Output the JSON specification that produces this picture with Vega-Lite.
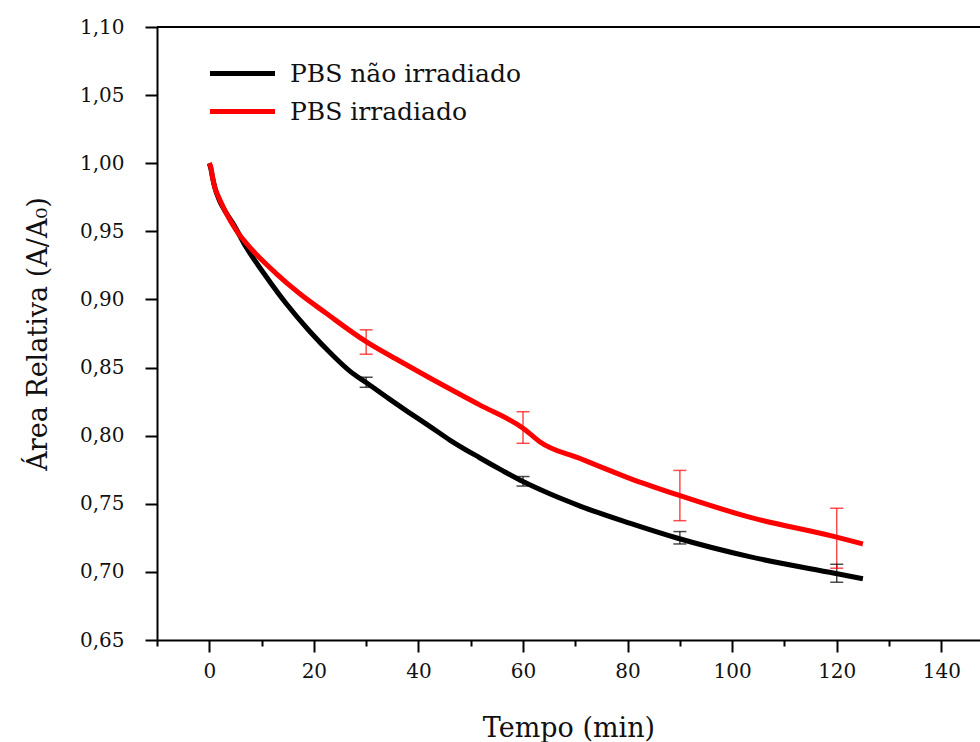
{
  "$schema": "https://vega.github.io/schema/vega-lite/v6.json",
  "autosize": "none",
  "width": 823,
  "height": 613,
  "padding": {"left": 157, "top": 27, "right": 0, "bottom": 102},
  "config": {
    "locale": {"number": {"decimal": ",", "thousands": ".", "grouping": [3], "currency": ["", ""]}},
    "view": {"stroke": null},
    "font": "DejaVu Serif",
    "axis": {"domainColor": "black", "domainWidth": 2, "tickColor": "black", "tickWidth": 2, "grid": false, "labelFont": "DejaVu Serif", "titleFont": "DejaVu Serif", "labelColor": "#111", "titleColor": "#111", "titleFontWeight": "normal"}
  },
  "datasets": {
    "curves": [
      {"t": 0, "v": 1.000, "s": "PBS não irradiado"},
      {"t": 0.3, "v": 0.996, "s": "PBS não irradiado"},
      {"t": 0.6, "v": 0.990, "s": "PBS não irradiado"},
      {"t": 1.0, "v": 0.983, "s": "PBS não irradiado"},
      {"t": 1.9, "v": 0.973, "s": "PBS não irradiado"},
      {"t": 3.0, "v": 0.965, "s": "PBS não irradiado"},
      {"t": 4.5, "v": 0.956, "s": "PBS não irradiado"},
      {"t": 7.0, "v": 0.9387, "s": "PBS não irradiado"},
      {"t": 10.9, "v": 0.9167, "s": "PBS não irradiado"},
      {"t": 14.7, "v": 0.897, "s": "PBS não irradiado"},
      {"t": 19.1, "v": 0.877, "s": "PBS não irradiado"},
      {"t": 23.6, "v": 0.859, "s": "PBS não irradiado"},
      {"t": 27.0, "v": 0.847, "s": "PBS não irradiado"},
      {"t": 30.0, "v": 0.839, "s": "PBS não irradiado"},
      {"t": 34.4, "v": 0.827, "s": "PBS não irradiado"},
      {"t": 38.0, "v": 0.8175, "s": "PBS não irradiado"},
      {"t": 42.1, "v": 0.807, "s": "PBS não irradiado"},
      {"t": 46.0, "v": 0.7968, "s": "PBS não irradiado"},
      {"t": 51.7, "v": 0.7838, "s": "PBS não irradiado"},
      {"t": 56.0, "v": 0.7745, "s": "PBS não irradiado"},
      {"t": 60.0, "v": 0.7663, "s": "PBS não irradiado"},
      {"t": 65.0, "v": 0.7575, "s": "PBS não irradiado"},
      {"t": 70.8, "v": 0.7485, "s": "PBS não irradiado"},
      {"t": 80.4, "v": 0.7358, "s": "PBS não irradiado"},
      {"t": 89.6, "v": 0.7247, "s": "PBS não irradiado"},
      {"t": 103.3, "v": 0.7112, "s": "PBS não irradiado"},
      {"t": 119.6, "v": 0.699, "s": "PBS não irradiado"},
      {"t": 125.0, "v": 0.695, "s": "PBS não irradiado"},
      {"t": 0, "v": 1.000, "s": "PBS irradiado"},
      {"t": 0.3, "v": 0.997, "s": "PBS irradiado"},
      {"t": 0.6, "v": 0.990, "s": "PBS irradiado"},
      {"t": 1.0, "v": 0.983, "s": "PBS irradiado"},
      {"t": 1.8, "v": 0.975, "s": "PBS irradiado"},
      {"t": 2.9, "v": 0.966, "s": "PBS irradiado"},
      {"t": 5.1, "v": 0.951, "s": "PBS irradiado"},
      {"t": 8.3, "v": 0.936, "s": "PBS irradiado"},
      {"t": 12.8, "v": 0.919, "s": "PBS irradiado"},
      {"t": 17.2, "v": 0.9045, "s": "PBS irradiado"},
      {"t": 22.3, "v": 0.890, "s": "PBS irradiado"},
      {"t": 30.0, "v": 0.869, "s": "PBS irradiado"},
      {"t": 36.4, "v": 0.8548, "s": "PBS irradiado"},
      {"t": 42.1, "v": 0.8425, "s": "PBS irradiado"},
      {"t": 51.7, "v": 0.8226, "s": "PBS irradiado"},
      {"t": 60.0, "v": 0.8054, "s": "PBS irradiado"},
      {"t": 61.3, "v": 0.8015, "s": "PBS irradiado"},
      {"t": 63.2, "v": 0.7956, "s": "PBS irradiado"},
      {"t": 70.8, "v": 0.7834, "s": "PBS irradiado"},
      {"t": 80.4, "v": 0.7687, "s": "PBS irradiado"},
      {"t": 89.6, "v": 0.7565, "s": "PBS irradiado"},
      {"t": 103.3, "v": 0.7402, "s": "PBS irradiado"},
      {"t": 119.6, "v": 0.7259, "s": "PBS irradiado"},
      {"t": 125.0, "v": 0.7205, "s": "PBS irradiado"}
    ],
    "errors": [
      {"t": 30, "lo": 0.8355, "hi": 0.8429, "s": "PBS não irradiado"},
      {"t": 60, "lo": 0.763, "hi": 0.770, "s": "PBS não irradiado"},
      {"t": 90, "lo": 0.7205, "hi": 0.7296, "s": "PBS não irradiado"},
      {"t": 120, "lo": 0.6924, "hi": 0.7056, "s": "PBS não irradiado"},
      {"t": 30, "lo": 0.8598, "hi": 0.8777, "s": "PBS irradiado"},
      {"t": 60, "lo": 0.7944, "hi": 0.8176, "s": "PBS irradiado"},
      {"t": 90, "lo": 0.7376, "hi": 0.7745, "s": "PBS irradiado"},
      {"t": 120, "lo": 0.7027, "hi": 0.7467, "s": "PBS irradiado"}
    ],
    "frame": [{"t": 0}]
  },
  "layer": [
    {
      "data": {"name": "curves"},
      "mark": {"type": "line", "strokeWidth": 5, "interpolate": "monotone"},
      "encoding": {
        "x": {
          "field": "t", "type": "quantitative",
          "scale": {"domain": [-10, 147.4], "nice": false, "zero": false},
          "axis": {
            "values": [-10, 0, 10, 20, 30, 40, 50, 60, 70, 80, 90, 100, 110, 120, 130, 140],
            "labelExpr": "datum.value % 20 === 0 ? datum.label : ''",
            "tickSize": {"condition": {"test": "datum.value % 20 === 0", "value": 12}, "value": 6},
            "labelPadding": 9, "labelFontSize": 20, "format": "d",
            "title": "Tempo (min)", "titleFontSize": 27, "titlePadding": 34
          }
        },
        "y": {
          "field": "v", "type": "quantitative",
          "scale": {"domain": [0.65, 1.10], "nice": false, "zero": false},
          "axis": {
            "values": [0.65, 0.675, 0.7, 0.725, 0.75, 0.775, 0.8, 0.825, 0.85, 0.875, 0.9, 0.925, 0.95, 0.975, 1.0, 1.025, 1.05, 1.075, 1.1],
            "format": ".2f",
            "labelExpr": "round(datum.value*1000) % 50 === 0 ? datum.label : ''",
            "tickSize": {"condition": {"test": "round(datum.value*1000) % 50 === 0", "value": 12}, "value": 6},
            "labelPadding": 21, "labelFontSize": 20,
            "title": "Área Relativa (A/A₀)", "titleFontSize": 27, "titlePadding": 27
          }
        },
        "color": {
          "field": "s", "type": "nominal",
          "scale": {"domain": ["PBS não irradiado", "PBS irradiado"], "range": ["#000000", "#ff0000"]},
          "legend": {
            "title": null, "orient": "none", "legendX": 72, "legendY": 33,
            "symbolType": "M-3,0H3", "symbolSize": 470, "symbolStrokeWidth": 5,
            "labelFontSize": 25, "labelFont": "DejaVu Serif", "labelColor": "#111",
            "labelLimit": 400, "labelOffset": 34, "rowPadding": 11
          }
        }
      }
    },
    {
      "data": {"name": "errors"},
      "mark": {"type": "rule", "strokeWidth": 1.5, "opacity": 0.7},
      "encoding": {
        "x": {"field": "t", "type": "quantitative"},
        "y": {"field": "lo", "type": "quantitative"},
        "y2": {"field": "hi"},
        "color": {"field": "s", "type": "nominal", "legend": null}
      }
    },
    {
      "data": {"name": "errors"},
      "mark": {"type": "tick", "orient": "horizontal", "size": 13, "thickness": 1.5, "opacity": 0.7},
      "encoding": {
        "x": {"field": "t", "type": "quantitative"},
        "y": {"field": "lo", "type": "quantitative"},
        "color": {"field": "s", "type": "nominal", "legend": null}
      }
    },
    {
      "data": {"name": "errors"},
      "mark": {"type": "tick", "orient": "horizontal", "size": 13, "thickness": 1.5, "opacity": 0.7},
      "encoding": {
        "x": {"field": "t", "type": "quantitative"},
        "y": {"field": "hi", "type": "quantitative"},
        "color": {"field": "s", "type": "nominal", "legend": null}
      }
    },
    {
      "data": {"name": "frame"},
      "mark": {"type": "rule", "color": "black", "strokeWidth": 2},
      "encoding": {
        "y": {"datum": 1.1, "type": "quantitative"}
      }
    }
  ]
}
